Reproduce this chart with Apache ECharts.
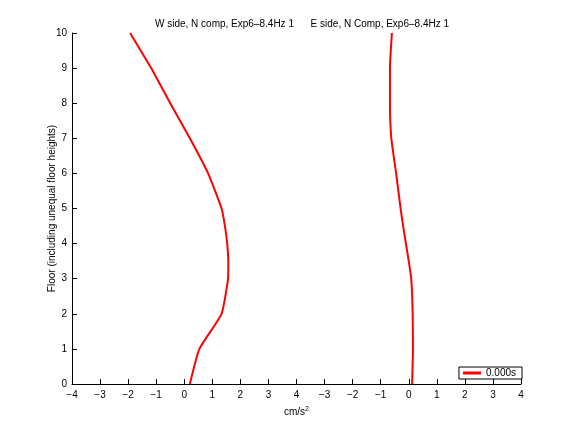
<!DOCTYPE html>
<html>
<head>
<meta charset="utf-8">
<script src="https://cdn.jsdelivr.net/npm/echarts@6/dist/echarts.min.js"></script>
<style>
html, body { margin: 0; padding: 0; background: #fff; }
#chart { width: 576px; height: 432px; }
</style>
</head>
<body>
<div id="chart"></div>
<script>
// floors (y) and accelerations (x, cm/s^2)
var floors = [0, 1, 2, 3, 3.5, 4, 4.5, 5, 6, 7, 8, 9, 10];
var westVals = [0.2, 0.54, 1.33, 1.56, 1.57, 1.53, 1.45, 1.33, 0.85, 0.2, -0.5, -1.18, -1.93];
var eastVals = [0.12, 0.15, 0.14, 0.09, 0.0, -0.1, -0.2, -0.29, -0.45, -0.62, -0.67, -0.67, -0.6];
var panelShift = 8; // the east panel is drawn 8 units to the right on the shared axis
var titleText = "W side, N comp, Exp6\u20138.4Hz 1      E side, N Comp, Exp6\u20138.4Hz 1";
var legendName = "0.000s";

var westData = floors.map(function (f, i) { return [westVals[i], f]; });
var eastData = floors.map(function (f, i) { return [eastVals[i] + panelShift, f]; });

var font = "Liberation Sans, Helvetica, Arial, sans-serif";
var chart = echarts.init(document.getElementById("chart"));
chart.setOption({
  animation: false,
  backgroundColor: "#fff",
  title: {
    text: titleText,
    left: 297,
    textAlign: "center",
    top: 14,
    textStyle: { fontSize: 10, fontWeight: "normal", color: "#000", fontFamily: font }
  },
  legend: {
    data: [{ name: legendName }],
    right: 54,
    bottom: 53,
    orient: "vertical",
    icon: "rect",
    itemWidth: 18,
    itemHeight: 3,
    itemGap: 0,
    padding: [1, 6, 1, 4],
    borderColor: "#000",
    borderWidth: 1,
    borderRadius: 0,
    backgroundColor: "#fff",
    textStyle: { fontSize: 10, color: "#000", fontFamily: font }
  },
  grid: { left: 72, right: 55, top: 33, bottom: 48 },
  xAxis: {
    type: "value",
    min: -4,
    max: 12,
    interval: 1,
    name: "cm/s{sup|2}",
    nameLocation: "middle",
    nameGap: 22,
    nameTextStyle: {
      fontSize: 10, color: "#000", fontFamily: font,
      rich: { sup: { fontSize: 7, verticalAlign: "top", padding: [0, 0, 6, 0], fontFamily: font, color: "#000" } }
    },
    axisLine: { show: true, onZero: false, lineStyle: { color: "#000", width: 1 } },
    axisTick: { show: true, inside: true, length: 5, lineStyle: { color: "#000" } },
    axisLabel: {
      fontSize: 10, color: "#000", fontFamily: font, margin: 6,
      formatter: function (v) {
        var n = v > 4 ? v - panelShift : v;
        return n < 0 ? "\u2212" + Math.abs(n) : String(n);
      }
    },
    splitLine: { show: false }
  },
  yAxis: {
    type: "value",
    min: 0,
    max: 10,
    interval: 1,
    name: "Floor (including unequal floor heights)",
    nameLocation: "middle",
    nameGap: 15,
    nameMoveOverlap: false,
    nameTextStyle: { fontSize: 10, color: "#000", fontFamily: font },
    axisLine: { show: true, onZero: false, lineStyle: { color: "#000", width: 1 } },
    axisTick: { show: true, inside: true, length: 5, lineStyle: { color: "#000" } },
    axisLabel: { fontSize: 10, color: "#000", fontFamily: font, margin: 5 },
    splitLine: { show: false }
  },
  series: [
    {
      name: legendName,
      type: "line",
      data: westData,
      symbol: "none",
      smooth: 0.15,
      lineStyle: { color: "#ff0000", width: 2 },
      itemStyle: { color: "#ff0000" }
    },
    {
      name: legendName,
      type: "line",
      data: eastData,
      symbol: "none",
      smooth: 0.15,
      lineStyle: { color: "#ff0000", width: 2 },
      itemStyle: { color: "#ff0000" }
    }
  ]
});
</script>
</body>
</html>
